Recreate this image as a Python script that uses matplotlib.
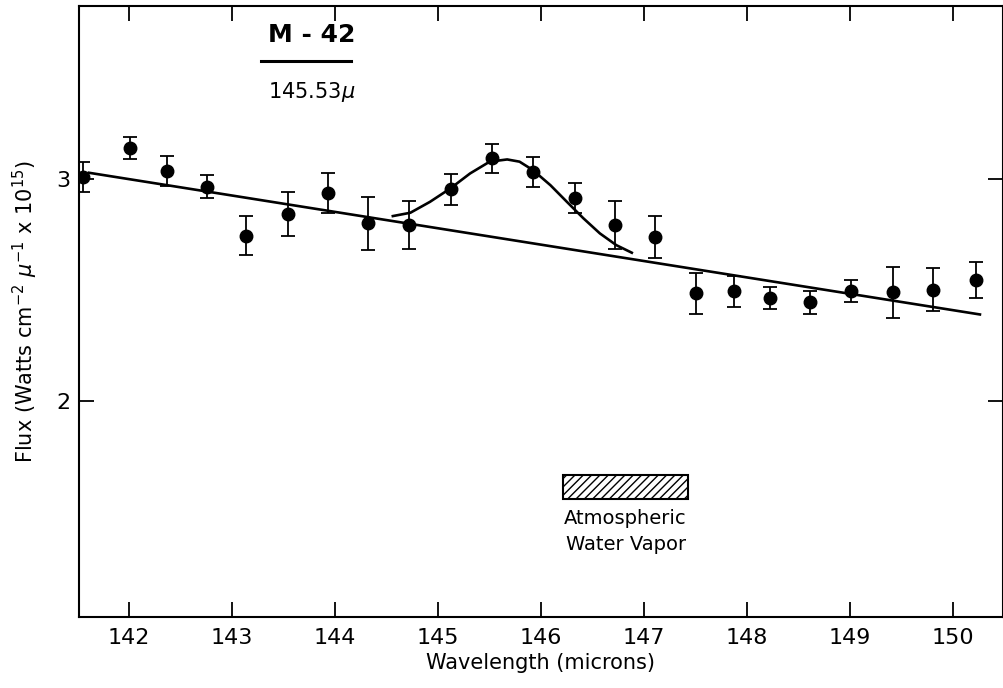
import matplotlib.pyplot as plt
from matplotlib.patches import Rectangle

# measured flux points with 1-sigma errors
wavelength = [141.55, 142.01, 142.37, 142.76, 143.13, 143.54, 143.93, 144.32,
              144.72, 145.12, 145.52, 145.92, 146.33, 146.72, 147.11, 147.50,
              147.87, 148.22, 148.61, 149.01, 149.42, 149.80, 150.22]
flux = [3.008, 3.139, 3.034, 2.963, 2.742, 2.840, 2.936, 2.798,
        2.790, 2.951, 3.091, 3.031, 2.911, 2.790, 2.735, 2.483,
        2.493, 2.463, 2.442, 2.493, 2.487, 2.500, 2.543]
flux_err = [0.068, 0.050, 0.066, 0.051, 0.088, 0.098, 0.090, 0.120,
            0.109, 0.071, 0.064, 0.068, 0.068, 0.107, 0.095, 0.092,
            0.070, 0.050, 0.053, 0.049, 0.113, 0.096, 0.080]

# continuum fit (straight line)
cont_x = [141.61, 150.26]
cont_y = [3.026, 2.388]

# line profile fit
line_x = [144.56, 144.73, 144.92, 145.12, 145.31, 145.50, 145.67, 145.79,
          145.92, 146.09, 146.25, 146.41, 146.57, 146.73, 146.88]
line_y = [2.831, 2.846, 2.895, 2.956, 3.023, 3.076, 3.086, 3.076,
          3.038, 2.970, 2.895, 2.821, 2.753, 2.700, 2.666]

# atmospheric water vapour band
band_x = (146.21, 147.43)
band_y = (1.559, 1.664)

xticks = [142, 143, 144, 145, 146, 147, 148, 149, 150]
yticks = [2, 3]

plt.rcParams['mathtext.default'] = 'regular'
fig = plt.figure(figsize=(10.04, 6.88), dpi=100)
ax = fig.add_axes([0.0784, 0.1036, 0.9202, 0.8877])

ax.plot(cont_x, cont_y, color='black', lw=1.9)
ax.plot(line_x, line_y, color='black', lw=1.9)
ax.errorbar(wavelength, flux, yerr=flux_err, fmt='o', color='black',
            ms=9, elinewidth=1.3, capsize=4.8, capthick=1.3)

ax.add_patch(Rectangle((band_x[0], band_y[0]), band_x[1] - band_x[0],
                       band_y[1] - band_y[0], facecolor='white',
                       edgecolor='black', hatch='////', lw=1.5))
mid = (band_x[0] + band_x[1]) / 2
ax.text(mid, 1.47, 'Atmospheric', ha='center', va='center', fontsize=14)
ax.text(mid, 1.35, 'Water Vapor', ha='center', va='center', fontsize=14)

ax.text(143.77, 3.645, 'M - 42', ha='center', va='center', fontsize=18,
        fontweight='bold')
ax.plot([143.28, 144.15], [3.53, 3.53], color='black', lw=2.2)
ax.text(143.77, 3.39, r'145.53$\mathit{\mu}$', ha='center', va='center',
        fontsize=15)

ax.set_xlim(141.51, 150.48)
ax.set_ylim(1.027, 3.777)
ax.set_xticks(xticks)
ax.set_yticks(yticks)
ax.tick_params(direction='in', length=11, width=1.3, top=True, right=True,
               labelsize=16)
ax.tick_params(axis='x', pad=8)
ax.tick_params(axis='y', pad=6)
for s in ax.spines.values():
    s.set_linewidth(1.5)

ax.set_xlabel('Wavelength (microns)', fontsize=15, labelpad=4)
ax.set_ylabel(r'Flux (Watts cm$^{-2}$ $\mathit{\mu}^{-1}$ x 10$^{15}$)',
              fontsize=15, labelpad=12)

fig.savefig('out.png', dpi=100)
